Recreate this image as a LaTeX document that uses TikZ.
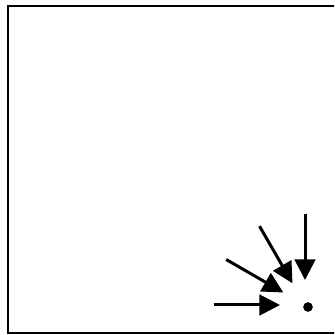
\documentclass[tikz,border=0pt]{standalone}
\usepackage{tikz}
\usetikzlibrary{arrows.meta, calc}
\tikzstyle{arrow} = [line width=0.09cm, -{Triangle[length=0.62cm, width=0.62cm]}]

\begin{document}
\begin{tikzpicture}[x=0.03cm, y=0.03cm]
  \useasboundingbox (0,0) rectangle (334,335);
  \clip (0,0) rectangle (334,335);

  % Frame
  \draw[line width=0.06cm] (8,2) rectangle (345,329);

  % Dot and the point the arrows aim at
  \node[circle, fill=black, inner sep=0pt, minimum size=0.29cm] (dot) at (308,28) {};
  \coordinate (aim) at (305,30);

  % Arrow ends
  \coordinate (s1) at ($(aim)+(180:91)$);
  \coordinate (e1) at ($(aim)+(180:25)$);
  \coordinate (s2) at ($(aim)+(150:91)$);
  \coordinate (e2) at ($(aim)+(150:25)$);
  \coordinate (s3) at ($(aim)+(120:91)$);
  \coordinate (e3) at ($(aim)+(120:25)$);
  \coordinate (s4) at ($(aim)+(90:91)$);
  \coordinate (e4) at ($(aim)+(90:25)$);

  % Arrows
  \draw[arrow] (s1) -- (e1);
  \draw[arrow] (s2) -- (e2);
  \draw[arrow] (s3) -- (e3);
  \draw[arrow] (s4) -- (e4);
\end{tikzpicture}
\end{document}
